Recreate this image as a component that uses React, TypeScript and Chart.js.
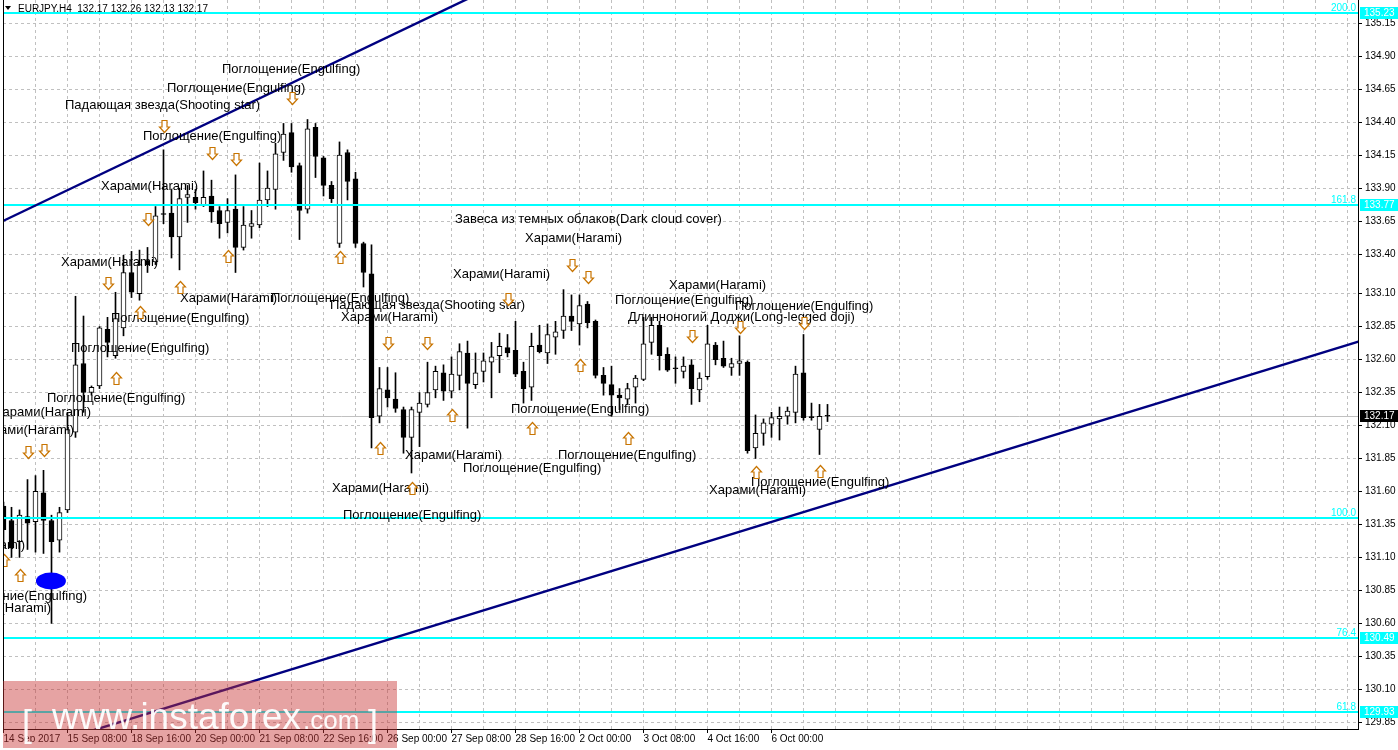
import React, { useEffect, useRef } from 'react';
import { Chart, registerables } from 'chart.js';

Chart.register(...registerables);

// ---------- data ----------
const OPEN = [131.49,131.38,131.22,131.41,131.37,131.59,131.38,131.23,131.46,132.05,
  132.57,132.35,132.40,132.83,132.63,132.84,133.26,133.10,133.35,133.34,
  133.70,133.71,133.53,133.83,133.83,133.77,133.84,133.73,133.64,133.74,
  133.45,133.61,133.62,133.81,133.89,134.17,134.32,134.07,133.74,134.36,
  134.13,133.92,133.48,134.17,133.97,133.48,133.25,132.17,132.37,132.30,
  132.22,132.01,132.20,132.26,132.37,132.50,132.36,132.48,132.65,132.41,
  132.51,132.58,132.63,132.69,132.67,132.51,132.39,132.71,132.65,132.77,
  132.82,132.93,132.87,133.02,132.89,132.48,132.41,132.33,132.30,132.39,
  132.45,132.73,132.86,132.64,132.53,132.51,132.56,132.37,132.47,132.71,
  132.61,132.54,132.57,132.58,131.93,132.04,132.11,132.15,132.17,132.20,
  132.50,132.16,132.07,132.17];
const HIGH = [131.52,131.48,131.46,131.69,131.72,131.76,131.42,131.48,132.20,133.08,
  132.93,132.40,132.85,132.92,133.11,133.39,133.42,133.43,133.45,133.76,
  134.19,133.89,133.90,133.92,133.89,134.03,133.96,133.76,133.82,134.00,
  133.76,133.73,134.09,134.03,134.24,134.39,134.39,134.09,134.42,134.39,
  134.14,133.95,134.25,134.19,134.02,133.49,133.47,132.54,132.54,132.50,
  132.24,132.24,132.35,132.58,132.55,132.56,132.62,132.72,132.74,132.65,
  132.65,132.73,132.80,132.79,132.89,132.58,132.80,132.86,132.87,132.89,
  133.13,133.09,133.09,133.04,132.90,132.54,132.55,132.38,132.42,132.48,
  132.92,132.92,132.89,132.69,132.62,132.62,132.60,132.50,132.86,132.73,
  132.74,132.61,132.78,132.59,132.18,132.15,132.20,132.24,132.24,132.55,
  132.79,132.27,132.26,132.26];
const LOW = [131.17,131.10,131.10,131.16,131.14,131.13,130.60,131.14,131.44,132.01,
  132.20,132.33,132.38,132.62,132.61,132.78,133.07,133.05,133.26,133.32,
  133.63,133.37,133.28,133.64,133.74,133.76,133.64,133.52,133.56,133.26,
  133.43,133.52,133.60,133.76,133.74,134.11,134.02,133.51,133.71,133.98,
  133.84,133.79,133.45,133.81,133.45,133.15,131.93,132.12,132.24,132.20,
  131.89,131.74,131.94,132.24,132.31,132.29,132.31,132.37,132.08,132.38,
  132.43,132.31,132.50,132.62,132.47,132.27,132.29,132.65,132.57,132.64,
  132.76,132.82,132.71,132.84,132.46,132.33,132.17,132.22,132.26,132.27,
  132.44,132.64,132.52,132.51,132.42,132.46,132.26,132.28,132.45,132.56,
  132.54,132.48,132.48,131.89,131.85,131.95,132.01,131.99,132.11,132.12,
  132.14,132.14,131.88,132.13];
const CLOSE = [131.31,131.17,131.42,131.36,131.60,131.38,131.22,131.44,132.07,132.56,
  132.35,132.39,132.84,132.73,132.91,133.26,133.11,133.32,133.32,133.69,
  133.70,133.53,133.82,133.85,133.79,133.83,133.72,133.63,133.73,133.45,
  133.62,133.63,133.81,133.90,134.16,134.31,134.06,133.73,134.35,134.14,
  133.92,133.82,134.15,133.95,133.48,133.26,132.16,132.38,132.31,132.23,
  132.01,132.22,132.27,132.35,132.51,132.36,132.49,132.66,132.42,132.50,
  132.59,132.62,132.70,132.65,132.49,132.38,132.70,132.66,132.79,132.81,
  132.93,132.89,133.01,132.88,132.48,132.42,132.33,132.31,132.38,132.46,
  132.72,132.86,132.63,132.52,132.53,132.55,132.38,132.46,132.72,132.60,
  132.55,132.57,132.59,131.91,132.04,132.12,132.16,132.17,132.21,132.49,
  132.16,132.16,132.17,132.17];

const X_LABELS = ['14 Sep 2017','15 Sep 08:00','18 Sep 16:00','20 Sep 00:00','21 Sep 08:00',
  '22 Sep 16:00','26 Sep 00:00','27 Sep 08:00','28 Sep 16:00','2 Oct 00:00','3 Oct 08:00',
  '4 Oct 16:00','6 Oct 00:00'];
const Y_TICKS = [135.15,134.90,134.65,134.40,134.15,133.90,133.65,133.40,133.10,132.85,132.60,
  132.35,132.10,131.85,131.60,131.35,131.10,130.85,130.60,130.35,130.10,129.85];

const FIB_PRICES = [135.23, 133.77, 131.395, 130.49, 129.93];
const FIB_NAMES = ['200.0', '161.8', '100.0', '76.4', '61.8'];
const FIB_BOX = [true, true, false, true, true];
const BID = 132.17;
const HEADER = 'EURJPY,H4  132.17 132.26 132.13 132.17';

const TREND_UPPER = [[0, 133.652], [57, 135.305]];
const TREND_LOWER = [[20, 129.953], [169, 132.73]];
const MARKER = [5.93, 130.921];

const ENG = 'Поглощение(Engulfing)';
const HAR = 'Харами(Harami)';
const STAR = 'Падающая звезда(Shooting star)';
// [bar, price, text, align]
const PATTERN_TEXT: [number, number, string, string][] = [
  [27.31, 134.803, ENG, 'l'], [20.44, 134.659, ENG, 'l'], [7.69, 134.530, STAR, 'l'],
  [17.44, 134.295, ENG, 'l'], [12.19, 133.916, HAR, 'l'], [7.19, 133.340, HAR, 'l'],
  [22.06, 133.067, HAR, 'l'], [33.44, 133.067, ENG, 'l'], [13.44, 132.915, ENG, 'l'],
  [8.44, 132.687, ENG, 'l'], [5.44, 132.308, ENG, 'l'], [40.81, 133.014, STAR, 'l'],
  [42.19, 132.923, HAR, 'l'], [56.44, 133.666, 'Завеса из темных облаков(Dark cloud cover)', 'l'],
  [65.19, 133.521, HAR, 'l'], [56.19, 133.249, HAR, 'l'], [76.44, 133.051, ENG, 'l'],
  [83.19, 133.165, HAR, 'l'], [91.44, 133.006, ENG, 'l'],
  [78.06, 132.923, 'Длинноногий Доджи(Long-legged doji)', 'l'],
  [63.44, 132.225, ENG, 'l'], [50.19, 131.876, HAR, 'l'], [57.44, 131.778, ENG, 'l'],
  [69.31, 131.876, ENG, 'l'], [41.06, 131.626, HAR, 'l'], [42.44, 131.421, ENG, 'l'],
  [88.19, 131.611, HAR, 'l'], [93.44, 131.671, ENG, 'l'],
  [10.94, 132.202, HAR, 'r'], [8.81, 132.066, HAR, 'r'], [2.69, 131.194, HAR, 'r'],
  [10.44, 130.807, ENG, 'r'], [5.94, 130.716, HAR, 'r'],
];
const ARROWS_DOWN = [[36,134.583],[20,134.371],[26,134.166],[29,134.120],[18,133.666],[13,133.180],
  [3,131.899],[5,131.914],[48,132.725],[53,132.725],[63,133.059],[71,133.317],[73,133.226],
  [86,132.778],[92,132.847],[100,132.877]];
const ARROWS_UP = [[28,133.385],[22,133.150],[17,132.960],[14,132.460],[42,133.377],[0,131.080],
  [2,130.966],[47,131.929],[56,132.179],[51,131.626],[72,132.559],[66,132.081],[78,132.005],
  [94,131.747],[102,131.755]];

const FONT = '"Liberation Sans", Arial, sans-serif';

function drawArrow(ctx: CanvasRenderingContext2D, cx: number, cy: number, down: boolean) {
  const s = down ? 1 : -1;
  cx = Math.round(cx) + 0.5;
  cy = Math.round(cy) + 0.5;
  ctx.beginPath();
  ctx.moveTo(cx - 2.5, cy - 6 * s);
  ctx.lineTo(cx + 2.5, cy - 6 * s);
  ctx.lineTo(cx + 2.5, cy + 0.5 * s);
  ctx.lineTo(cx + 5, cy + 0.5 * s);
  ctx.lineTo(cx, cy + 6 * s);
  ctx.lineTo(cx - 5, cy + 0.5 * s);
  ctx.lineTo(cx - 2.5, cy + 0.5 * s);
  ctx.closePath();
  ctx.fillStyle = '#ffffff';
  ctx.fill();
  ctx.strokeStyle = '#c87400';
  ctx.lineWidth = 1.2;
  ctx.stroke();
}

const overlay = {
  id: 'mtOverlay',
  beforeDatasetsDraw(chart: any) {
    const { ctx, chartArea: a, scales: { y } } = chart;
    ctx.save();
    ctx.beginPath();
    ctx.rect(a.left, a.top, a.right - a.left, a.bottom - a.top);
    ctx.clip();
    const yb = Math.round(y.getPixelForValue(BID)) + 0.5;
    ctx.strokeStyle = '#c0c0c0';
    ctx.lineWidth = 1;
    ctx.beginPath();
    ctx.moveTo(a.left, yb);
    ctx.lineTo(a.right, yb);
    ctx.stroke();
    ctx.fillStyle = '#000';
    ctx.beginPath();
    ctx.moveTo(5, 6); ctx.lineTo(11, 6); ctx.lineTo(8, 10); ctx.closePath();
    ctx.fill();
    ctx.font = '10px ' + FONT;
    ctx.textAlign = 'left';
    ctx.textBaseline = 'middle';
    ctx.fillText(HEADER, 18, 9);
    ctx.restore();
  },
  afterDatasetsDraw(chart: any) {
    const { ctx, chartArea: a, scales: { x, y } } = chart;
    ctx.save();
    ctx.beginPath();
    ctx.rect(a.left, a.top, a.right - a.left, a.bottom - a.top);
    ctx.clip();
    FIB_PRICES.forEach((p, i) => {
      const py = Math.round(y.getPixelForValue(p));
      ctx.fillStyle = '#00ffff';
      ctx.fillRect(a.left, py - 1, a.right - a.left, 2);
      ctx.font = '10px ' + FONT;
      ctx.textAlign = 'right';
      ctx.textBaseline = 'bottom';
      ctx.fillText(FIB_NAMES[i], a.right - 2, py);
    });
    const trend = (pts: number[][]) => {
      const [[b1, p1], [b2, p2]] = pts;
      const k = (p2 - p1) / (b2 - b1);
      const bl = x.min - 1, br = x.max + 1;
      ctx.beginPath();
      ctx.moveTo(x.getPixelForValue(bl), y.getPixelForValue(p1 + k * (bl - b1)));
      ctx.lineTo(x.getPixelForValue(br), y.getPixelForValue(p1 + k * (br - b1)));
      ctx.strokeStyle = '#000080';
      ctx.lineWidth = 2.4;
      ctx.stroke();
    };
    trend(TREND_UPPER);
    trend(TREND_LOWER);
    ctx.fillStyle = '#0000ff';
    ctx.beginPath();
    ctx.ellipse(x.getPixelForValue(MARKER[0]), y.getPixelForValue(MARKER[1]), 15, 8.5, 0, 0, Math.PI * 2);
    ctx.fill();
    ctx.font = '13px ' + FONT;
    ctx.textBaseline = 'middle';
    ctx.fillStyle = '#000';
    PATTERN_TEXT.forEach(([b, p, t, al]) => {
      ctx.textAlign = al === 'r' ? 'right' : 'left';
      ctx.fillText(t, x.getPixelForValue(b), y.getPixelForValue(p));
    });
    ARROWS_DOWN.forEach(([b, p]) => drawArrow(ctx, x.getPixelForValue(b), y.getPixelForValue(p), true));
    ARROWS_UP.forEach(([b, p]) => drawArrow(ctx, x.getPixelForValue(b), y.getPixelForValue(p), false));
    ctx.restore();
  },
  afterDraw(chart: any) {
    const { ctx, chartArea: a, scales: { y } } = chart;
    ctx.save();
    ctx.fillStyle = '#000';
    ctx.fillRect(a.left, a.top, 1, a.bottom - a.top);
    ctx.font = '10px ' + FONT;
    ctx.textAlign = 'left';
    ctx.textBaseline = 'middle';
    FIB_PRICES.forEach((p, i) => {
      if (!FIB_BOX[i]) return;
      const py = Math.round(y.getPixelForValue(p));
      ctx.fillStyle = '#00ffff';
      ctx.fillRect(a.right + 2, py - 6, 40, 12);
      ctx.fillStyle = '#ffffff';
      ctx.fillText(p.toFixed(2), a.right + 6, py);
    });
    const pb = Math.round(y.getPixelForValue(BID));
    ctx.fillStyle = '#000';
    ctx.fillRect(a.right + 2, pb - 6, 40, 12);
    ctx.fillStyle = '#fff';
    ctx.fillText(BID.toFixed(2), a.right + 6, pb);
    ctx.fillStyle = 'rgba(200,50,50,0.45)';
    ctx.fillRect(3, 681, 394, 67);
    ctx.fillStyle = 'rgba(255,255,255,0.95)';
    ctx.textBaseline = 'alphabetic';
    ctx.font = '36px ' + FONT;
    ctx.fillText('[', 22, 736);
    ctx.fillText(']', 368, 736);
    ctx.font = '37px ' + FONT;
    ctx.fillText('www.instaforex', 52, 729);
    ctx.font = '26px ' + FONT;
    ctx.fillText('.com', 303, 729);
    ctx.restore();
  },
};

export default function App() {
  const ref = useRef<HTMLCanvasElement>(null);
  useEffect(() => {
    if (!ref.current) return;
    const n = OPEN.length;
    const idx = Array.from({ length: n }, (_, i) => i);
    const bull = idx.map((i) => CLOSE[i] > OPEN[i]);
    const chart = new Chart(ref.current, {
      type: 'bar',
      data: {
        datasets: [
          {
            label: 'body',
            data: idx.map((i) => ({ x: i, y: [OPEN[i], CLOSE[i]] })) as any,
            backgroundColor: bull.map((b) => (b ? '#ffffff' : '#000000')),
            borderColor: '#000000',
            borderWidth: 1,
            borderSkipped: false,
            barThickness: 5,
            minBarLength: 1,
            grouped: false,
            order: 0,
          } as any,
          {
            label: 'wick',
            data: idx.map((i) => ({ x: i, y: [LOW[i], HIGH[i]] })) as any,
            backgroundColor: '#000000',
            borderWidth: 0,
            barThickness: 1,
            minBarLength: 1,
            grouped: false,
            order: 1,
          } as any,
        ],
      },
      options: {
        animation: false,
        responsive: false,
        events: [],
        layout: { padding: { left: 3, top: 0, right: 0, bottom: 0 } },
        plugins: { legend: { display: false }, tooltip: { enabled: false }, title: { display: false } },
        scales: {
          x: {
            type: 'linear',
            min: -0.0625,
            max: 169.3125,
            offset: false,
            afterBuildTicks: (s: any) => {
              const t = [];
              for (let v = 0; v <= 168; v += 4) t.push({ value: v });
              s.ticks = t;
            },
            afterFit: (s: any) => {
              s.height = 21;
              s.paddingLeft = 0;
              s.paddingRight = 0;
            },
            ticks: {
              autoSkip: false,
              maxRotation: 0,
              minRotation: 0,
              align: 'start',
              padding: 0,
              color: '#000',
              font: { family: FONT, size: 10 },
              callback: (v: any) => {
                const k = Number(v);
                return k % 8 === 0 && k / 8 < X_LABELS.length ? X_LABELS[k / 8] : '';
              },
            },
            grid: {
              offset: false,
              color: '#c0c0c0',
              lineWidth: 1,
              tickLength: 4,
              tickColor: (c: any) => {
                const k = c.tick ? c.tick.value : -1;
                return k % 8 === 0 && k / 8 < X_LABELS.length ? '#000' : 'rgba(0,0,0,0)';
              },
              tickBorderDash: [],
            } as any,
            border: { display: true, color: '#000', width: 1, dash: [3, 3] } as any,
          },
          y: {
            type: 'linear',
            position: 'right',
            min: 129.799,
            max: 135.326,
            afterBuildTicks: (s: any) => {
              s.ticks = Y_TICKS.map((v) => ({ value: v }));
            },
            afterFit: (s: any) => {
              s.width = 40;
              s.paddingTop = 0;
              s.paddingBottom = 0;
            },
            ticks: {
              autoSkip: false,
              padding: 3,
              color: '#000',
              font: { family: FONT, size: 10 },
              callback: (v: any) => Number(v).toFixed(2),
            },
            grid: {
              color: '#c0c0c0',
              lineWidth: 1,
              tickLength: 4,
              tickColor: '#000',
              tickBorderDash: [],
            } as any,
            border: { display: true, color: '#000', width: 1, dash: [3, 3] } as any,
          },
        },
      } as any,
      plugins: [overlay],
    });
    return () => chart.destroy();
  }, []);
  return (
    <div style={{ position: 'fixed', left: 0, top: 0, width: 1398, height: 750, background: '#fff' }}>
      <canvas ref={ref} width={1398} height={750} style={{ display: 'block' }} />
    </div>
  );
}
